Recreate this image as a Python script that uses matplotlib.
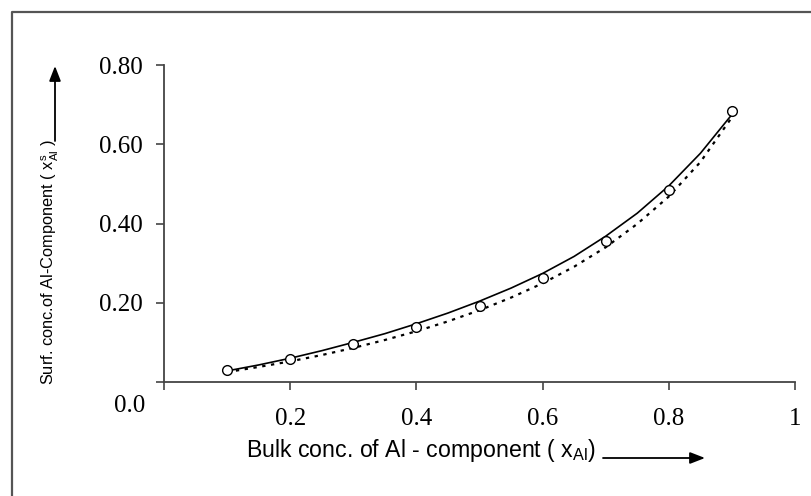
import matplotlib
matplotlib.use("Agg")
import matplotlib.pyplot as plt
from matplotlib.lines import Line2D

# ---- data ----
x_points = [0.1, 0.2, 0.3, 0.4, 0.5, 0.6, 0.7, 0.8, 0.9]
y_points = [0.030, 0.059, 0.095, 0.140, 0.193, 0.262, 0.356, 0.485, 0.684]

x_curve = [0.10, 0.15, 0.20, 0.25, 0.30, 0.35, 0.40, 0.45, 0.50,
           0.55, 0.60, 0.65, 0.70, 0.75, 0.80, 0.85, 0.90]
y_solid = [0.028, 0.043, 0.060, 0.079, 0.100, 0.122, 0.147, 0.174, 0.204,
           0.237, 0.274, 0.317, 0.368, 0.426, 0.495, 0.577, 0.675]
y_dotted = [0.025, 0.038, 0.052, 0.068, 0.086, 0.106, 0.128, 0.153, 0.181,
            0.213, 0.249, 0.291, 0.340, 0.399, 0.468, 0.555, 0.668]

x_ticks = [0.2, 0.4, 0.6, 0.8, 1.0]
x_ticklabels = ["0.2", "0.4", "0.6", "0.8", "1"]
y_ticks = [0.2, 0.4, 0.6, 0.8]
y_ticklabels = ["0.20", "0.40", "0.60", "0.80"]

W, H = 811, 496
plt.rcParams['mathtext.fontset'] = 'custom'
plt.rcParams['mathtext.rm'] = 'Liberation Sans'
plt.rcParams['mathtext.it'] = 'Liberation Sans'
serif = ['Liberation Serif', 'DejaVu Serif']
sans = ['Liberation Sans', 'DejaVu Sans']

fig = plt.figure(figsize=(W / 100, H / 100), dpi=100)
fig.patch.set_facecolor('white')

def fx(px):
    return px / W

def fy(py):
    return 1 - py / H

ax = fig.add_axes([fx(164), fy(382), fx(795) - fx(164), fy(65) - fy(382)])
ax.plot(x_curve, y_solid, color='black', lw=1.2, solid_capstyle='round')
ax.plot(x_curve, y_dotted, color='black', lw=1.6, linestyle=(0, (1.5, 2.5)))
ax.plot(x_points, y_points, linestyle='none', marker='o', ms=7, mfc='white',
        mec='black', mew=1.0, zorder=5)

ax.set_xlim(0, 1)
ax.set_ylim(0, 0.8)
for s in ['top', 'right']:
    ax.spines[s].set_visible(False)
for s in ['left', 'bottom']:
    ax.spines[s].set_color('#444444')
    ax.spines[s].set_linewidth(1.3)
ax.set_xticks([0.0] + x_ticks)
ax.set_xticklabels([""] + x_ticklabels)
ax.set_yticks([0.0] + y_ticks)
ax.set_yticklabels([""] + y_ticklabels)
ax.tick_params(axis='both', direction='out', length=5.5, width=1.2, color='#444444',
               labelsize=18)
ax.tick_params(axis='x', pad=13)
ax.tick_params(axis='y', pad=9.5)
for lab in ax.get_xticklabels() + ax.get_yticklabels():
    lab.set_fontfamily(serif)
ax.patch.set_alpha(0)

fig.text(fx(130), fy(406), "0.0", ha='center', va='center', fontsize=18,
         family=serif)

# frame lines (left and top)
fig.add_artist(Line2D([fx(12), fx(12), 1.0], [0.0, fy(12), fy(12)],
                      color='#555555', lw=1.6, transform=fig.transFigure))

# axis labels with arrows
fig.text(fx(246), fy(451), r"Bulk conc. of Al - component ( x$_{\mathrm{Al}}$)",
         ha='left', va='center', fontsize=16.7, family=sans)
fig.text(fx(50), fy(262), r"Surf. conc.of Al-Component ( x$^{s}_{\mathrm{Al}}$ )",
         ha='center', va='center', fontsize=11.8, family=sans, rotation=90)

arrow = dict(arrowstyle='-|>,head_length=0.9,head_width=0.35', color='black',
             lw=1.3, shrinkA=0, shrinkB=0)
fig.add_artist(plt.Annotation("", xy=(fx(705), fy(458)), xytext=(fx(603), fy(458)),
                              xycoords='figure fraction', textcoords='figure fraction',
                              arrowprops=arrow))
fig.add_artist(plt.Annotation("", xy=(fx(55), fy(66)), xytext=(fx(55), fy(141)),
                              xycoords='figure fraction', textcoords='figure fraction',
                              arrowprops=arrow))

fig.savefig("out.png", dpi=100, facecolor='white')
